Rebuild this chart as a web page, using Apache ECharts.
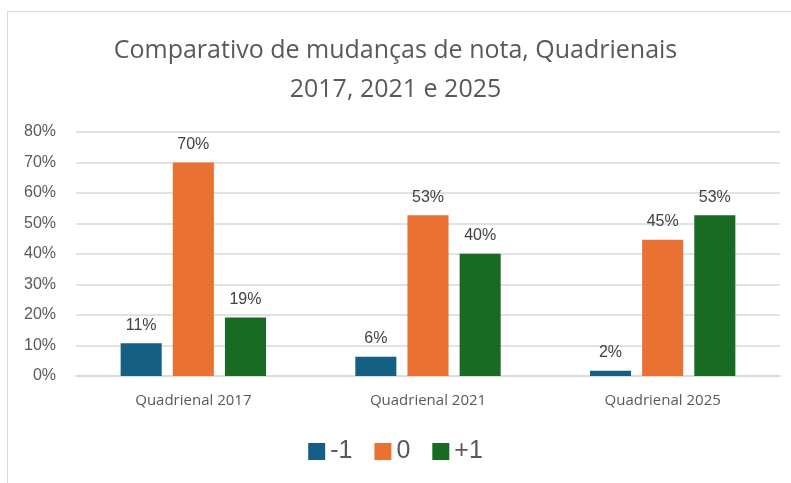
<!DOCTYPE html>
<html>
<head>
<meta charset="utf-8">
<script src="https://cdn.jsdelivr.net/npm/echarts@6/dist/echarts.min.js"></script>
<style>
  html, body { margin: 0; padding: 0; background: #fff; }
  #frame { position: absolute; left: 7px; top: 11px; width: 800px; height: 480px; border: 1px solid #d9d9d9; }
  #chart { position: absolute; left: 0; top: 0; width: 791px; height: 483px; }
</style>
</head>
<body>
<div id="frame"></div>
<div id="chart"></div>
<script>
var categories = ['Quadrienal 2017', 'Quadrienal 2021', 'Quadrienal 2025'];
var seriesNames = ['-1', '0', '+1'];
var menosUm = [10.7, 6.3, 1.7];
var zero = [70.0, 52.7, 44.7];
var maisUm = [19.2, 40.1, 52.7];
var yTicks = [0, 10, 20, 30, 40, 50, 60, 70, 80];

var colors = ['#156082', '#E97132', '#196B24'];

var myChart = echarts.init(document.getElementById('chart'));

function serie(name, data, color) {
    return {
        name: name,
        type: 'bar',
        data: data,
        barWidth: '17.5%',
        barGap: '27%',
        itemStyle: { color: color },
        label: {
            show: true,
            position: 'top',
            distance: 10,
            color: '#404040',
            fontFamily: 'Liberation Sans',
            fontSize: 16,
            formatter: function (p) { return Math.round(p.value) + '%'; }
        }
    };
}

var option = {
    animation: false,
    color: colors,
    title: {
        text: 'Comparativo de mudanças de nota, Quadrienais\n2017, 2021 e 2025',
        left: 'center',
        top: 26,
        textStyle: {
            color: '#595959',
            fontFamily: 'Open Sans',
            fontWeight: 'normal',
            fontSize: 25,
            lineHeight: 39
        }
    },
    legend: {
        bottom: 14,
        left: 'center',
        itemWidth: 17,
        itemHeight: 17,
        itemGap: 22,
        icon: 'rect',
        data: seriesNames,
        textStyle: { color: '#595959', fontFamily: 'Liberation Sans', fontSize: 25 }
    },
    grid: { left: 76, right: 11, top: 132, bottom: 107, containLabel: false },
    xAxis: {
        type: 'category',
        data: categories,
        axisTick: { show: false },
        axisLine: { lineStyle: { color: '#d9d9d9', width: 1.5 } },
        axisLabel: { color: '#595959', fontFamily: 'Open Sans', fontSize: 15, margin: 17 }
    },
    yAxis: {
        type: 'value',
        min: yTicks[0],
        max: yTicks[yTicks.length - 1],
        interval: 10,
        axisLine: { show: false },
        axisTick: { show: false },
        splitLine: { lineStyle: { color: '#d9d9d9', width: 1.5 } },
        axisLabel: {
            color: '#595959',
            fontFamily: 'Liberation Sans',
            fontSize: 16,
            margin: 20,
            formatter: '{value}%'
        }
    },
    series: [
        serie(seriesNames[0], menosUm, colors[0]),
        serie(seriesNames[1], zero, colors[1]),
        serie(seriesNames[2], maisUm, colors[2])
    ]
};

myChart.setOption(option);
</script>
</body>
</html>
